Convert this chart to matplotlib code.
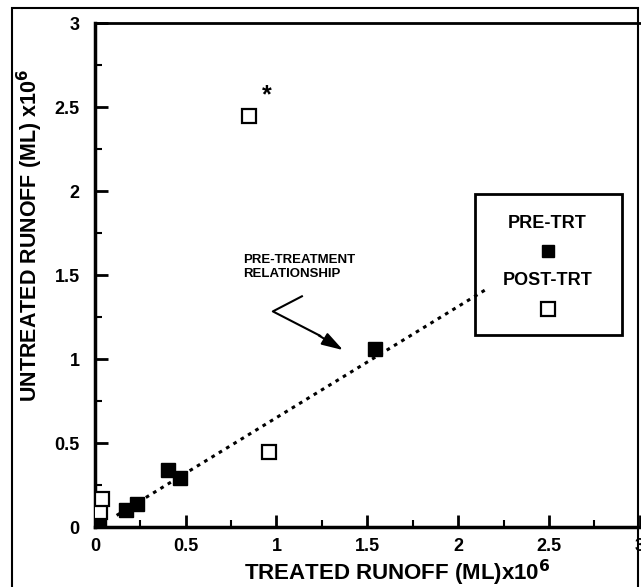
import matplotlib
matplotlib.use('Agg')
import matplotlib.pyplot as plt
from matplotlib.patches import Rectangle
from matplotlib.ticker import MultipleLocator

plt.rcParams['font.family'] = ['Liberation Sans', 'DejaVu Sans']

# runoff values, ML x 10^6
pre_treated = [0.02, 0.17, 0.23, 0.40, 0.47, 1.54]
pre_untreated = [0.02, 0.10, 0.14, 0.34, 0.29, 1.06]

post_treated = [0.03, 0.04, 0.96, 0.85]
post_untreated = [0.09, 0.17, 0.45, 2.45]

# pre-treatment relationship (dotted line end points)
rel_x = [0.12, 2.16]
rel_y = [0.07, 1.42]

ticks = [0, 0.5, 1, 1.5, 2, 2.5, 3]
tick_labels = ['0', '0.5', '1', '1.5', '2', '2.5', '3']

fig = plt.figure(figsize=(6.41, 5.87), dpi=100)
ax = fig.add_axes([0.148, 0.102, 0.85, 0.858])

ax.plot(rel_x, rel_y, linestyle=(0, (1.2, 1.6)), color='black', linewidth=2.2, zorder=2)
ax.plot(pre_treated, pre_untreated, 's', color='black', markersize=10, zorder=3)
ax.plot(post_treated, post_untreated, 's', markerfacecolor='white', markeredgecolor='black',
        markeredgewidth=1.6, markersize=10, zorder=3)

ax.text(0.92, 2.5, '*', fontsize=18, fontweight='bold', ha='left', va='bottom')

# annotation with chevron arrow
ax.text(0.815, 1.55, 'PRE-TREATMENT\nRELATIONSHIP', fontsize=9.5, fontweight='bold',
        ha='left', va='center', linespacing=1.25)
ax.plot([1.14, 0.98, 1.24], [1.375, 1.285, 1.14], color='black', linewidth=1.5)
ax.annotate('', xy=(1.38, 1.046), xytext=(1.22, 1.15),
            arrowprops=dict(arrowstyle='-|>,head_length=1.3,head_width=0.4', color='black', lw=1.5))

ax.set_xlim(0, 3)
ax.set_ylim(0, 3)
ax.xaxis.set_minor_locator(MultipleLocator(0.25))
ax.yaxis.set_minor_locator(MultipleLocator(0.25))
ax.set_xticks(ticks)
ax.set_xticklabels(tick_labels)
ax.set_yticks(ticks)
ax.set_yticklabels(tick_labels)
ax.tick_params(which='major', direction='in', length=9, width=2, labelsize=13)
ax.tick_params(axis='x', which='major', pad=8)
ax.tick_params(axis='y', which='major', pad=11)
ax.tick_params(which='minor', direction='in', length=5, width=1.5)
for lab in ax.get_xticklabels() + ax.get_yticklabels():
    lab.set_fontweight('bold')

for side in ['left', 'bottom']:
    ax.spines[side].set_linewidth(2.5)
ax.spines['top'].set_linewidth(2)
ax.spines['right'].set_visible(False)

ax.set_xlabel('TREATED RUNOFF (ML)x10$^{\\mathbf{6}}$', fontsize=16, fontweight='bold')
ax.set_ylabel('UNTREATED RUNOFF (ML) x10$^{\\mathbf{6}}$', fontsize=15.5, fontweight='bold')
ax.xaxis.set_label_coords(0.555, -0.06)
ax.yaxis.set_label_coords(-0.092, 0.58)

# legend box
ax.add_patch(Rectangle((0.697, 0.382), 0.27, 0.279, transform=ax.transAxes,
                       fill=False, edgecolor='black', linewidth=2, zorder=4, clip_on=False))
ax.text(0.831, 0.602, 'PRE-TRT', transform=ax.transAxes, ha='center', va='center',
        fontsize=13, fontweight='bold')
ax.plot([0.831], [0.548], 's', color='black', markersize=9, transform=ax.transAxes)
ax.text(0.831, 0.49, 'POST-TRT', transform=ax.transAxes, ha='center', va='center',
        fontsize=13, fontweight='bold')
ax.plot([0.831], [0.434], 's', markerfacecolor='white', markeredgecolor='black',
        markeredgewidth=1.6, markersize=10, transform=ax.transAxes)

# outer frame
fig.add_artist(Rectangle((12 / 641, -0.01), 626 / 641, 1 - 8 / 587 + 0.01,
                         transform=fig.transFigure, fill=False, edgecolor='black', linewidth=1.5))

fig.savefig('out.png', dpi=100)
